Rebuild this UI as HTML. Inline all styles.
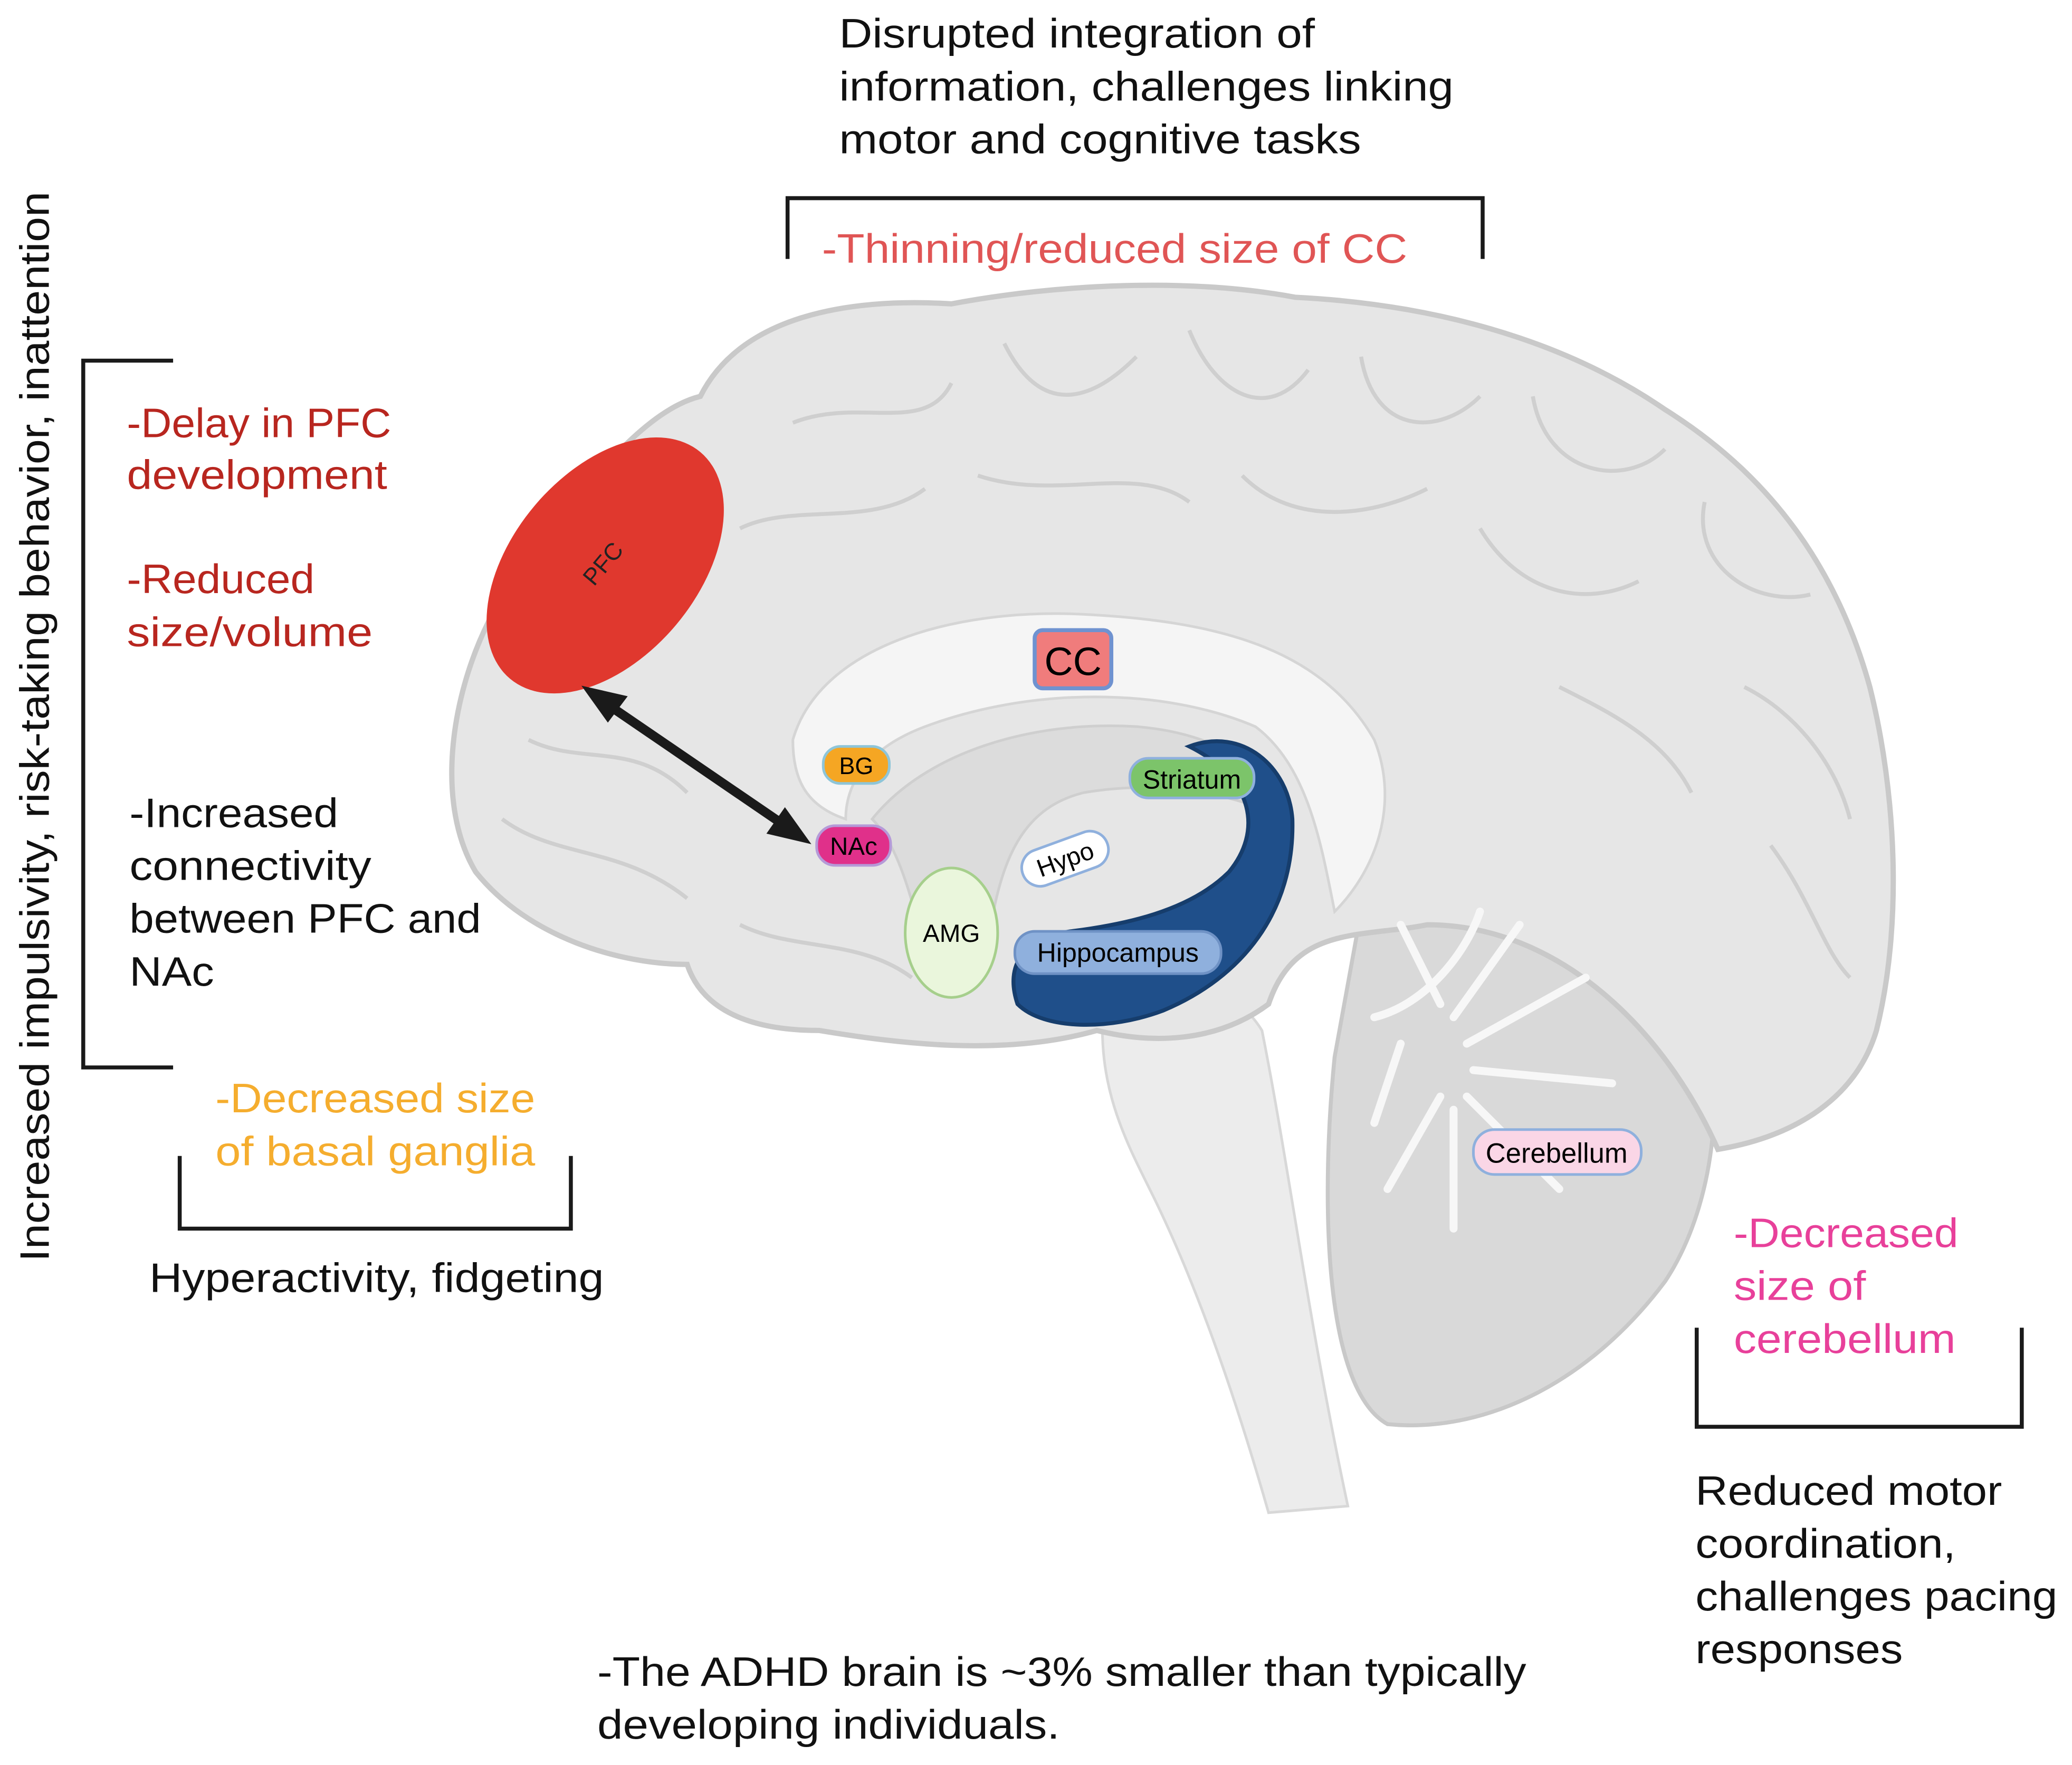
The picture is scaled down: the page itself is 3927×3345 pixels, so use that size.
<!DOCTYPE html>
<html><head><meta charset="utf-8"><style>
html,body{margin:0;padding:0;background:#fff;}
svg{display:block;}
text{font-family:"Liberation Sans",sans-serif;}
</style></head><body>
<svg width="3927" height="3345" viewBox="0 0 1568 1336" preserveAspectRatio="none" xmlns="http://www.w3.org/2000/svg">
<rect width="1568" height="1336" fill="#fff"/>
<!-- brainstem -->
<path d="M835,760 C880,730 930,740 955,780 C975,880 990,1000 1020,1140 L960,1145 C930,1040 900,960 870,900 C850,860 830,820 835,760 Z" fill="#ececec" stroke="#d8d8d8" stroke-width="2"/>
<!-- cerebellum -->
<path d="M1030,690 C1100,640 1230,650 1280,730 C1310,810 1300,910 1260,970 C1200,1050 1120,1085 1050,1078 C1000,1050 1000,900 1010,800 Z" fill="#d9d9d9" stroke="#c8c8c8" stroke-width="3"/>
<!-- main brain -->
<path d="M530,300 C560,240 640,225 720,230 C800,215 900,210 980,225 C1080,230 1180,255 1260,310 C1340,360 1390,430 1415,520 C1435,600 1440,700 1420,780 C1405,830 1360,860 1300,870 C1260,780 1180,700 1080,700 C1030,710 980,700 960,760 C920,790 870,790 830,780 C760,800 680,790 620,780 C560,780 530,760 520,730 C470,730 400,710 360,660 C330,610 340,530 370,470 C380,420 420,370 470,340 C490,320 510,305 530,300 Z" fill="#e6e6e6" stroke="#c9c9c9" stroke-width="4"/>
<!-- gyri hints -->
<g fill="none" stroke="#cfcfcf" stroke-width="3">
<path d="M600,320 C650,300 700,330 720,290 M760,260 C790,320 830,300 860,270 M900,250 C920,300 960,320 990,280 M1030,270 C1040,330 1090,330 1120,300 M1160,300 C1170,360 1230,370 1260,340 M1290,380 C1280,430 1330,460 1370,450 M1320,520 C1360,540 1390,580 1400,620 M1340,640 C1370,680 1380,720 1400,740"/>
<path d="M560,400 C600,380 660,400 700,370 M740,360 C800,380 860,350 900,380 M940,360 C980,400 1040,390 1080,370 M1120,400 C1150,450 1200,460 1240,440 M1180,520 C1220,540 1260,560 1280,600"/>
<path d="M400,560 C440,580 480,560 520,600 M380,620 C420,650 470,640 520,680 M560,700 C600,720 650,710 690,740"/>
</g>
<!-- corpus callosum -->
<path d="M600,560 C620,490 720,460 820,465 C920,470 1000,490 1040,560 C1060,610 1040,660 1010,690 C1000,640 990,580 950,550 C880,520 780,520 700,550 C660,565 640,590 640,620 C610,610 600,590 600,560 Z" fill="#f5f5f5" stroke="#d5d5d5" stroke-width="2"/>
<path d="M660,620 C700,570 780,545 860,550 C920,555 960,580 975,620 C930,600 880,590 820,600 C780,610 760,640 750,700 L700,720 C690,680 680,640 660,620 Z" fill="#dcdcdc" stroke="#cfcfcf" stroke-width="2"/>
<!-- cerebellum tree -->
<g stroke="#f7f7f7" stroke-width="6" fill="none" stroke-linecap="round">
<path d="M1040,770 C1080,760 1110,720 1120,690 M1090,760 L1060,700 M1100,770 L1150,700 M1110,790 L1200,740 M1115,810 L1220,820 M1110,830 L1180,900 M1100,840 L1100,930 M1090,830 L1050,900 M1060,790 L1040,850"/>
</g>
<!-- hippocampus -->
<path d="M900,565 C940,550 975,580 978,620 C980,690 940,740 880,765 C840,780 790,780 770,760 C760,730 775,710 810,705 C850,700 900,690 930,660 C955,630 950,590 900,565 Z" fill="#1f4f8a" stroke="#163d6c" stroke-width="3"/>
<!-- PFC -->
<ellipse cx="458" cy="428" rx="70" ry="112" transform="rotate(40 458 428)" fill="#e0382e"/>
<text x="458" y="432" font-size="18" transform="rotate(-50 458 428)" text-anchor="middle" fill="#222">PFC</text>
<!-- arrow -->
<line x1="458" y1="532" x2="597" y2="627" stroke="#1a1a1a" stroke-width="7"/>
<polygon points="440,519 475,527 460,547" fill="#1a1a1a"/>
<polygon points="614,639 580,631 594,611" fill="#1a1a1a"/>
<!-- labels -->
<rect x="623" y="565" width="50" height="28" rx="13" fill="#f5a623" stroke="#8ec5d8" stroke-width="2"/>
<text x="648" y="586" font-size="18" text-anchor="middle">BG</text>
<rect x="618" y="625" width="56" height="30" rx="14" fill="#e0308a" stroke="#b59ad8" stroke-width="2"/>
<text x="646" y="647" font-size="19" text-anchor="middle">NAc</text>
<ellipse cx="720" cy="706" rx="35" ry="49" fill="#eaf6dc" stroke="#a6cf8c" stroke-width="2"/>
<text x="720" y="713" font-size="19" text-anchor="middle">AMG</text>
<g transform="rotate(-20 806 650)"><rect x="772" y="636" width="68" height="28" rx="14" fill="#fff" stroke="#8fb0dd" stroke-width="2"/>
<text x="806" y="657" font-size="19" text-anchor="middle">Hypo</text></g>
<rect x="855" y="574" width="94" height="30" rx="14" fill="#7cc46a" stroke="#8fb0dd" stroke-width="2"/>
<text x="902" y="597" font-size="20" text-anchor="middle">Striatum</text>
<rect x="768" y="705" width="156" height="32" rx="15" fill="#8fb0dd" stroke="#6f92c5" stroke-width="2"/>
<text x="846" y="728" font-size="20" text-anchor="middle">Hippocampus</text>
<rect x="783" y="477" width="58" height="44" rx="6" fill="#f07c7c" stroke="#6f92d0" stroke-width="3"/>
<text x="812" y="511" font-size="30" text-anchor="middle">CC</text>
<rect x="1115" y="855" width="127" height="34" rx="16" fill="#fad6e6" stroke="#8fb0dd" stroke-width="2"/>
<text x="1178" y="880" font-size="21" text-anchor="middle">Cerebellum</text>
<!-- brackets -->
<g fill="none" stroke="#1a1a1a" stroke-width="3">
<polyline points="596,196 596,150 1122,150 1122,196"/>
<polyline points="131,273 63,273 63,808 131,808"/>
<polyline points="136,875 136,930 432,930 432,875"/>
<polyline points="1284,1005 1284,1080 1530,1080 1530,1005"/>
</g>
<!-- texts -->
<g font-size="31" fill="#111" lengthAdjust="spacingAndGlyphs">
<text x="635" y="36" textLength="360" lengthAdjust="spacingAndGlyphs">Disrupted integration of</text>
<text x="635" y="76" textLength="465" lengthAdjust="spacingAndGlyphs">information, challenges linking</text>
<text x="635" y="116" textLength="395" lengthAdjust="spacingAndGlyphs">motor and cognitive tasks</text>
<text x="622" y="199" fill="#e05555" textLength="443" lengthAdjust="spacingAndGlyphs">-Thinning/reduced size of CC</text>
<text x="96" y="331" fill="#b8261f" textLength="200" lengthAdjust="spacingAndGlyphs">-Delay in PFC</text>
<text x="96" y="370" fill="#b8261f" textLength="197" lengthAdjust="spacingAndGlyphs">development</text>
<text x="96" y="449" fill="#b8261f" textLength="142" lengthAdjust="spacingAndGlyphs">-Reduced</text>
<text x="96" y="489" fill="#b8261f" textLength="186" lengthAdjust="spacingAndGlyphs">size/volume</text>
<text x="98" y="626" textLength="158" lengthAdjust="spacingAndGlyphs">-Increased</text>
<text x="98" y="666" textLength="183" lengthAdjust="spacingAndGlyphs">connectivity</text>
<text x="98" y="706" textLength="266" lengthAdjust="spacingAndGlyphs">between PFC and</text>
<text x="98" y="746" textLength="64" lengthAdjust="spacingAndGlyphs">NAc</text>
<text x="163" y="842" fill="#f5ad2e" textLength="242" lengthAdjust="spacingAndGlyphs">-Decreased size</text>
<text x="163" y="882" fill="#f5ad2e" textLength="242" lengthAdjust="spacingAndGlyphs">of basal ganglia</text>
<text x="113" y="978" textLength="344" lengthAdjust="spacingAndGlyphs">Hyperactivity, fidgeting</text>
<text x="1312" y="944" fill="#e8409a" textLength="170" lengthAdjust="spacingAndGlyphs">-Decreased</text>
<text x="1312" y="984" fill="#e8409a" textLength="100" lengthAdjust="spacingAndGlyphs">size of</text>
<text x="1312" y="1024" fill="#e8409a" textLength="168" lengthAdjust="spacingAndGlyphs">cerebellum</text>
<text x="1283" y="1139" textLength="232" lengthAdjust="spacingAndGlyphs">Reduced motor</text>
<text x="1283" y="1179" textLength="197" lengthAdjust="spacingAndGlyphs">coordination,</text>
<text x="1283" y="1219" textLength="274" lengthAdjust="spacingAndGlyphs">challenges pacing</text>
<text x="1283" y="1259" textLength="157" lengthAdjust="spacingAndGlyphs">responses</text>
<text x="452" y="1276" textLength="703" lengthAdjust="spacingAndGlyphs">-The ADHD brain is ~3% smaller than typically</text>
<text x="452" y="1316" textLength="350" lengthAdjust="spacingAndGlyphs">developing individuals.</text>
<text x="0" y="0" transform="translate(37 955) rotate(-90)" textLength="810" lengthAdjust="spacingAndGlyphs">Increased impulsivity, risk-taking behavior, inattention</text>
</g>
</svg>
</body></html>
